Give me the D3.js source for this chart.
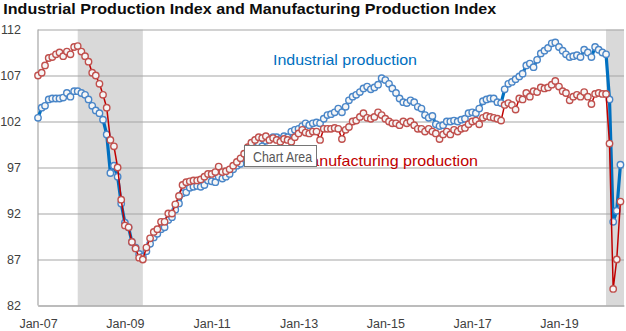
<!DOCTYPE html>
<html>
<head>
<meta charset="utf-8">
<script src="https://cdn.jsdelivr.net/npm/d3@7"></script>
<style>
  body { margin: 0; background: #fff; }
  svg { display: block; font-family: "Liberation Sans", Arial, sans-serif; }
</style>
</head>
<body>
<div id="chart"></div>
<script>
// maandelijkse reeksen, jan 2007 t/m jun 2020
const firstMonth = new Date(2007, 0, 1);

const industrial = [
  102.4, 103.5, 103.7, 104.4, 104.5, 104.5, 104.5, 104.6, 105.1, 104.7, 105.3, 105.3, // 2007
  105.1, 104.9, 104.4, 103.7, 103.2, 102.9, 102.2, 100.6, 96.4, 97.2, 96.0, 93.1,     // 2008
  91.0, 90.5, 88.9, 88.3, 87.6, 87.3, 87.9, 88.7, 89.4, 89.8, 90.3, 90.5,             // 2009
  91.3, 91.6, 92.4, 93.1, 94.2, 94.3, 94.8, 94.9, 95.0, 94.9, 95.1, 95.6,             // 2010
  95.5, 95.4, 96.0, 95.8, 96.0, 96.3, 96.8, 97.2, 97.4, 98.0, 98.3, 98.9,             // 2011
  99.4, 99.6, 99.3, 99.9, 100.1, 100.3, 100.3, 100.1, 100.4, 100.3, 100.9, 101.1,     // 2012
  101.2, 101.5, 101.8, 101.6, 101.8, 101.9, 101.8, 102.3, 102.7, 102.8, 103.0, 103.4, // 2013
  103.0, 103.6, 104.3, 104.7, 104.9, 105.2, 105.6, 105.8, 105.5, 105.7, 106.0, 106.7, // 2014
  106.5, 106.1, 105.6, 105.1, 104.5, 104.1, 104.0, 104.3, 104.1, 103.6, 103.4, 102.7, // 2015
  102.4, 102.6, 101.7, 101.5, 101.6, 102.0, 102.0, 102.1, 102.0, 102.2, 102.3, 102.9, // 2016
  103.0, 102.9, 103.4, 104.2, 104.4, 104.5, 104.5, 104.1, 104.0, 105.5, 106.1, 106.3, // 2017
  106.6, 106.9, 107.2, 108.1, 108.3, 107.9, 108.7, 109.4, 109.7, 110.0, 110.5, 110.6, // 2018
  110.1, 109.7, 109.3, 109.0, 109.1, 109.2, 109.0, 109.8, 109.5, 109.0, 110.1, 109.8, // 2019
  109.5, 109.3, 104.4, 91.1, 92.3, 97.3                                               // 2020
];

const manufacturing = [
  107.0, 107.3, 108.1, 108.9, 109.0, 109.3, 109.5, 109.1, 109.6, 109.3, 110.1, 110.2, // 2007
  109.6, 109.1, 108.5, 107.3, 107.0, 106.1, 104.9, 103.5, 100.0, 99.3, 97.0, 93.5,    // 2008
  90.7, 90.5, 88.9, 88.2, 87.2, 87.0, 88.3, 89.3, 90.0, 90.3, 91.1, 91.1,             // 2009
  92.0, 92.0, 93.0, 93.9, 95.1, 95.4, 95.5, 95.6, 95.6, 95.7, 96.0, 96.3,             // 2010
  96.3, 96.5, 97.1, 96.5, 96.6, 96.8, 97.2, 97.6, 98.0, 98.5, 99.2, 99.7,             // 2011
  100.0, 100.3, 100.2, 100.4, 100.0, 100.2, 100.0, 99.8, 100.1, 100.0, 99.8, 100.3,   // 2012
  100.7, 101.1, 100.8, 100.7, 100.9, 100.9, 100.0, 101.2, 101.2, 101.2, 101.3, 101.2, // 2013
  100.1, 101.1, 101.4, 102.0, 102.1, 102.5, 102.9, 102.4, 102.3, 102.5, 103.0, 102.7, // 2014
  102.3, 102.0, 101.8, 101.8, 101.6, 102.0, 101.8, 102.0, 101.6, 101.2, 101.2, 100.9, // 2015
  101.2, 100.9, 100.7, 100.1, 100.6, 100.9, 100.6, 101.1, 100.9, 101.2, 101.3, 101.7, // 2016
  102.0, 102.1, 101.7, 102.4, 102.6, 102.5, 102.4, 102.3, 102.1, 103.8, 104.0, 103.8, // 2017
  103.3, 104.5, 104.4, 105.1, 104.7, 105.3, 105.2, 105.7, 105.6, 105.7, 106.0, 106.4, // 2018
  105.8, 105.3, 105.1, 104.3, 104.7, 104.9, 104.7, 105.2, 104.7, 103.9, 105.0, 105.1, // 2019
  105.0, 105.0, 99.6, 83.8, 87.0, 93.3                                                // 2020
];

// recessies (grijze banden): begin- en eindmaand
const recessions = [
  [new Date(2007, 11, 1), new Date(2009, 5, 1)],
  [new Date(2020, 1, 1), new Date(2020, 6, 1)]
];

const yTicks = [82, 87, 92, 97, 102, 107, 112];
const xTickLabels = ["Jan-07", "Jan-09", "Jan-11", "Jan-13", "Jan-15", "Jan-17", "Jan-19"];

const width = 626;
const height = 331;
const plot = {left: 38, right: 624, top: 29.5, bottom: 305.5};

const months = d3.timeMonth.range(firstMonth, new Date(2020, 6, 1)).slice(0, industrial.length);

const svg = d3.select("#chart")
  .append("svg")
    .attr("width", width)
    .attr("height", height);

const xScale = d3.scaleTime()
    .domain([firstMonth, new Date(2020, 6, 1)])
    .range([plot.left, plot.right]);

const yScale = d3.scaleLinear()
    .domain([82, 112])
    .range([plot.bottom, plot.top]);

// grijze recessiebanden
svg.append("g").selectAll("rect")
  .data(recessions)
  .join("rect")
    .attr("x", d => xScale(d[0]))
    .attr("y", plot.top)
    .attr("width", d => xScale(d[1]) - xScale(d[0]))
    .attr("height", plot.bottom - plot.top)
    .attr("fill", "#d9d9d9");

// y-as met rasterlijnen
const yAxis = svg.append("g")
    .attr("transform", "translate(" + plot.left + ",0)")
    .call(d3.axisLeft(yScale)
      .tickValues(yTicks)
      .tickSize(-(plot.right - plot.left))
      .tickPadding(17)
      .tickFormat(d3.format("d")));
yAxis.select(".domain").remove();
yAxis.selectAll(".tick line").attr("stroke", "#a6a6a6").attr("stroke-width", 1.2);
yAxis.selectAll(".tick text")
    .attr("font-size", 12.5)
    .attr("fill", "#404040");

// linker aslijn
svg.append("line")
    .attr("x1", plot.left).attr("x2", plot.left)
    .attr("y1", plot.top).attr("y2", plot.bottom)
    .attr("stroke", "#a6a6a6").attr("stroke-width", 1.2);

// x-as
const xAxis = svg.append("g")
    .attr("transform", "translate(0," + plot.bottom + ")")
    .call(d3.axisBottom(xScale)
      .tickValues(xTickLabels.map(s => d3.timeParse("%b-%y")(s)))
      .tickSize(0)
      .tickPadding(14)
      .tickFormat(d3.timeFormat("%b-%y")));
xAxis.select(".domain").attr("stroke", "#a6a6a6").attr("stroke-width", 1.2);
xAxis.selectAll(".tick text")
    .attr("font-size", 12.5)
    .attr("fill", "#404040");

// lijnen en markers per reeks
function drawSeries(values, lineColor, lineWidth, markerColor) {
  const line = d3.line()
      .x((d, i) => xScale(months[i]))
      .y(d => yScale(d));

  const g = svg.append("g");
  g.append("path")
      .datum(values)
      .attr("fill", "none")
      .attr("stroke", lineColor)
      .attr("stroke-width", lineWidth)
      .attr("stroke-linejoin", "round")
      .attr("d", line);

  g.selectAll("circle")
    .data(values)
    .join("circle")
      .attr("cx", (d, i) => xScale(months[i]))
      .attr("cy", d => yScale(d))
      .attr("r", 3.2)
      .attr("fill", "#f6f6f6")
      .attr("stroke", markerColor)
      .attr("stroke-width", 1.4);
}

drawSeries(industrial, "#0070c0", 3.2, "#4a86c8");
drawSeries(manufacturing, "#c00000", 1.5, "#c0504d");

// titel en labels
svg.append("text")
    .attr("x", 3.3).attr("y", 13.5)
    .attr("font-size", 14.5)
    .attr("font-weight", "bold")
    .attr("fill", "#0d0d0d")
    .attr("textLength", 493)
    .attr("lengthAdjust", "spacingAndGlyphs")
    .text("Industrial Production Index and Manufacturing Production Index");

svg.append("text")
    .attr("x", 273).attr("y", 64.5)
    .attr("font-size", 15)
    .attr("fill", "#0070c0")
    .attr("textLength", 144)
    .attr("lengthAdjust", "spacingAndGlyphs")
    .text("Industrial production");

svg.append("text")
    .attr("x", 297).attr("y", 166)
    .attr("font-size", 15)
    .attr("fill", "#c00000")
    .attr("textLength", 181)
    .attr("lengthAdjust", "spacingAndGlyphs")
    .text("Manufacturing production");

// tooltip "Chart Area" zoals in het origineel
svg.append("rect")
    .attr("x", 244.5).attr("y", 145.5)
    .attr("width", 72).attr("height", 21)
    .attr("fill", "#ffffff")
    .attr("stroke", "#767676")
    .attr("stroke-width", 1);

svg.append("text")
    .attr("x", 253).attr("y", 161.5)
    .attr("font-size", 14)
    .attr("fill", "#575757")
    .attr("textLength", 59)
    .attr("lengthAdjust", "spacingAndGlyphs")
    .text("Chart Area");
</script>
</body>
</html>
